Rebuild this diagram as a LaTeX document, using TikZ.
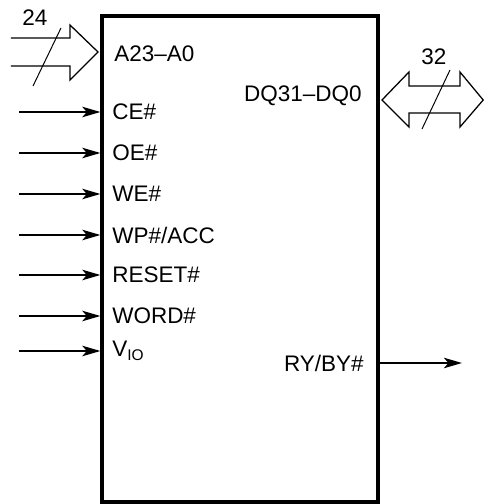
\documentclass[tikz,border=0pt]{standalone}
\usepackage{fontspec}
\setmainfont{Liberation Sans}
\usetikzlibrary{arrows.meta}

\begin{document}
\begin{tikzpicture}[font=\fontsize{16}{19}\selectfont,
  sig/.style={line width=1.6pt,-{Stealth[length=4.5mm,width=2.6mm,inset=1.1mm]}},
  bus/.style={line width=0.9pt,line join=miter},
  pinlabel/.style={inner sep=0pt}]
\useasboundingbox (0,0) rectangle (12.1,12.6);
% chip outline
\node[draw,line width=2.3pt,minimum width=6.9cm,minimum height=12.15cm,inner sep=0pt]
  (chip) at (6,6.125) {};
% address bus
\draw[bus] (0.275,11.65) -- (1.75,11.65) -- (1.75,11.975) -- (2.45,11.3)
   -- (1.75,10.6) -- (1.75,10.95) -- (0.275,10.95);
\draw[line width=0.7pt] (0.825,10.45) -- (1.525,11.9);
\node (abits) at (0.875,12.15) {24};
\node[pinlabel,anchor=west] (addr) at (2.85,11.25) {A23--A0};
% data bus
\draw[bus] (9.55,10.1) -- (10.225,10.8) -- (10.225,10.45) -- (11.5,10.45)
   -- (11.5,10.8) -- (12.08,10.1) -- (11.5,9.425) -- (11.5,9.775)
   -- (10.225,9.775) -- (10.225,9.425) -- cycle;
\draw[line width=0.7pt] (10.55,9.375) -- (11.25,10.85);
\node (dbits) at (10.85,11.175) {32};
\node[pinlabel,anchor=east] (data) at (9.05,10.2) {DQ31--DQ0};
% control inputs
\foreach \name/\y/\txt in {ce/9.8/CE\#, oe/8.775/OE\#, we/7.75/WE\#,
    wp/6.725/{WP\#/ACC}, reset/5.725/RESET\#, word/4.7/WORD\#,
    vio/3.825/{V\raisebox{-0.35ex}{\fontsize{11}{13}\selectfont IO}}} {
  \coordinate (\name-in) at (0.475,\y);
  \node[pinlabel,anchor=west] (\name) at (2.8,\y) {\txt};
  \draw[sig] (\name-in) -- (chip.west |- \name-in);
}
% ready/busy output
\node[pinlabel,anchor=east] (ryby) at (9.1,3.525) {RY/BY\#};
\coordinate (ryby-out) at (11.55,3.525);
\draw[sig] (chip.east |- ryby) -- (ryby-out);
\end{tikzpicture}
\end{document}
